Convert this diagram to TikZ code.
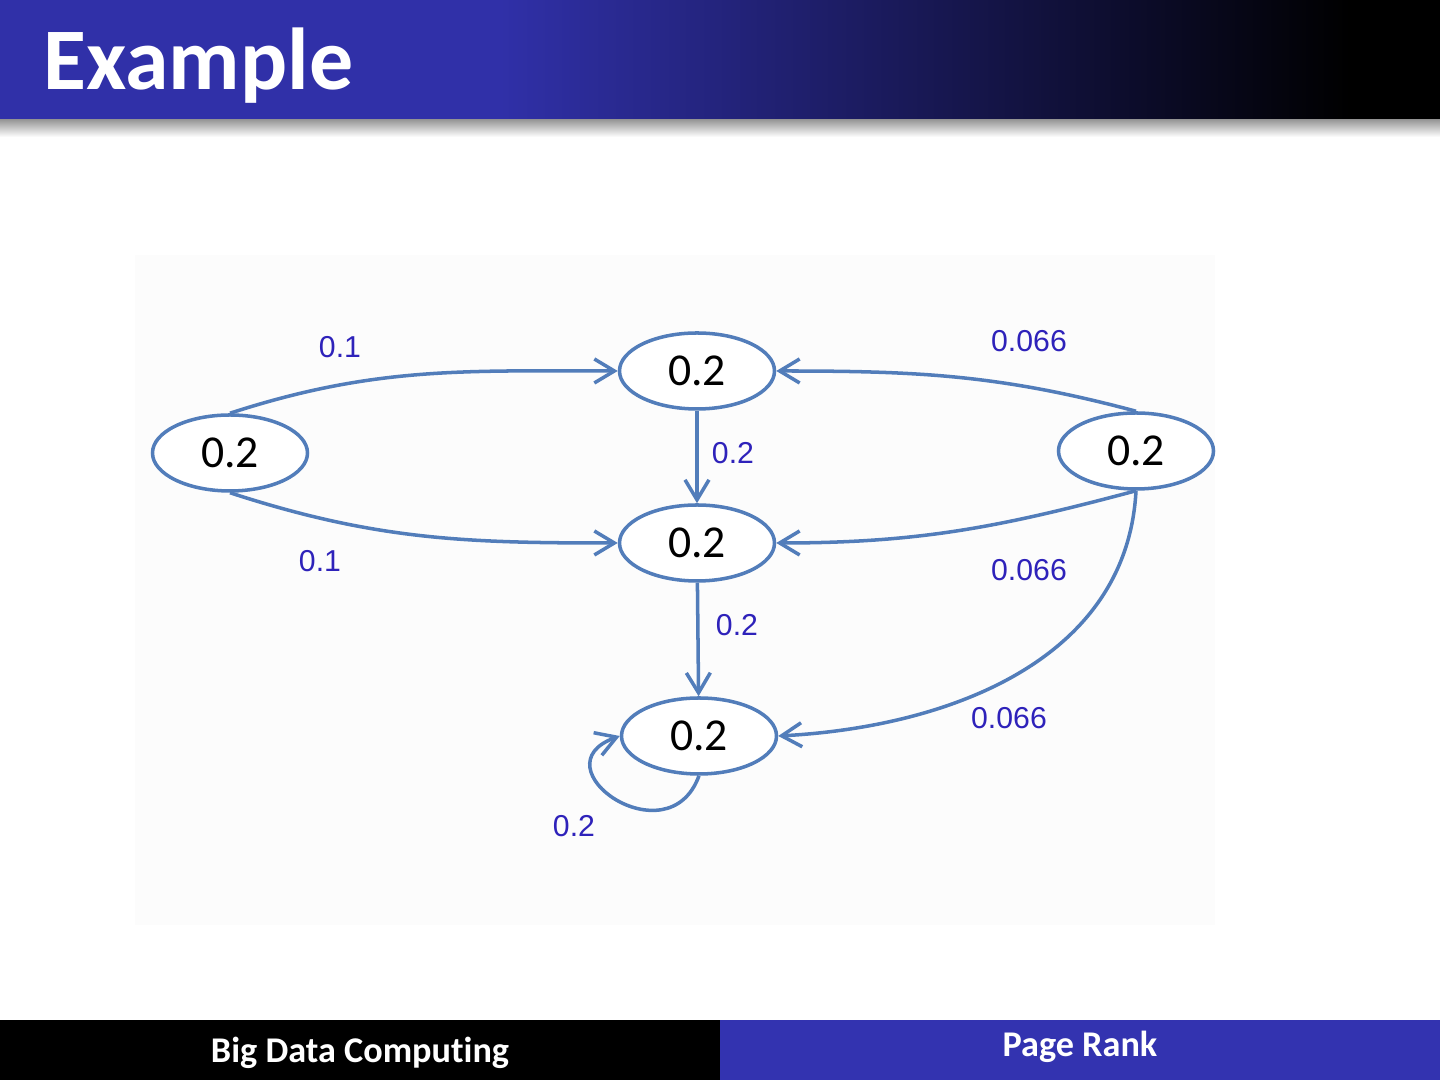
\documentclass[tikz,border=0pt]{standalone}
\usepackage{fontspec}
\setmainfont{Carlito}[Ligatures=NoCommon]
\newfontfamily\labelfont{Liberation Sans}
\usepackage{xcolor}
\usetikzlibrary{positioning,arrows.meta,shapes.geometric,calc}

\begin{document}
\begin{tikzpicture}[
      page/.style={ellipse, draw=edgeblue, line width=1pt, fill=white,
        minimum width=1.55cm, minimum height=0.76cm, inner sep=0pt,
        font=\fontsize{13}{15}\selectfont, text=black},
      link/.style={-{Straight Barb[length=2mm,width=2.4mm]}, line width=1pt, edgeblue},
      wlabel/.style={font=\labelfont\fontsize{8.6}{10}\selectfont, text=labelblue, inner sep=1pt},
      bartext/.style={inner sep=0pt, text=white, font=\fontsize{10.3}{12}\selectfont\bfseries},
    ]
    \definecolor{titleblue}{RGB}{48,48,168}
    \definecolor{footblue}{RGB}{51,51,176}
    \definecolor{edgeblue}{RGB}{82,125,186}
    \definecolor{labelblue}{RGB}{46,34,186}

    \useasboundingbox (0,0) rectangle (14.4,10.8);
    \fill[white] (0,0) rectangle (14.4,10.8);

    % title bar
    \fill[titleblue] (0,9.6) rectangle (5.0,10.8);
    \shade[left color=titleblue, right color=black] (5.0,9.6) rectangle (13.5,10.8);
    \fill[black] (13.5,9.6) rectangle (14.4,10.8);
    \shade[top color=black!40, bottom color=white] (0,9.43) rectangle (14.4,9.6);
    \node[anchor=base west, inner sep=0pt, text=white, font=\fontsize{25}{29}\selectfont\bfseries] (title) at (0.43,9.90) {Example};

    % footer
    \fill[black] (0,0) rectangle (7.2,0.6);
    \fill[footblue] (7.2,0) rectangle (14.4,0.6);
    \node[bartext, anchor=base] (course) at (3.60,0.17) {Big Data Computing};
    \node[bartext, anchor=base] (topic) at (10.80,0.23) {Page Rank};

    % panel behind the graph
    \fill[black!1] (1.35,1.55) rectangle (12.15,8.25);

    % pages
    \node[page] (left)   at (2.30,6.27) {0.2};
    \node[page] (top)    at (6.97,7.09) {0.2};
    \node[page] (middle) at (6.97,5.37) {0.2};
    \node[page] (bottom) at (6.99,3.44) {0.2};
    \node[page] (right)  at (11.36,6.29) {0.2};

    % links
    \draw[link] (left.north) to[out=18, in=180] (top.west);
    \draw[link] (left.south) to[out=-18, in=180] (middle.west);
    \draw[link] (top) -- (middle);
    \draw[link] (middle) -- (bottom);
    \draw[link] (right.north) to[out=165, in=0] (top.east);
    \draw[link] (right.south) to[out=195, in=0] (middle.east);
    \draw[link] (right.south) to[out=-93, in=3] (bottom.east);
    \draw[link] (bottom.south) to[out=-110, in=200, looseness=2.6] (bottom.west);

    % weights
    \node[wlabel] (wLT) at (3.40,7.33) {0.1};
    \node[wlabel] (wLM) at (3.20,5.19) {0.1};
    \node[wlabel] (wTM) at (7.33,6.27) {0.2};
    \node[wlabel] (wMB) at (7.37,4.55) {0.2};
    \node[wlabel] (wRT) at (10.29,7.39) {0.066};
    \node[wlabel] (wRM) at (10.29,5.10) {0.066};
    \node[wlabel] (wRB) at (10.09,3.62) {0.066};
    \node[wlabel] (wBB) at (5.74,2.54) {0.2};
  \end{tikzpicture}
\end{document}
